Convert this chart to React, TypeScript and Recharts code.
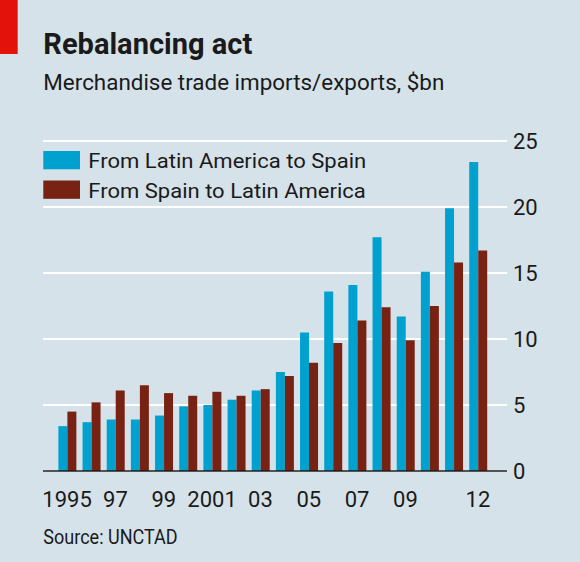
import React from 'react';
import { BarChart, Bar, XAxis, YAxis, CartesianGrid } from 'recharts';

const years = [
  '1995', '1996', '1997', '1998', '1999', '2000', '2001', '2002', '2003',
  '2004', '2005', '2006', '2007', '2008', '2009', '2010', '2011', '2012'
];
const latamToSpain = [3.4, 3.7, 3.9, 3.9, 4.2, 4.9, 5.0, 5.4, 6.1, 7.5, 10.5, 13.6, 14.1, 17.7, 11.7, 15.1, 19.9, 23.4];
const spainToLatam = [4.5, 5.2, 6.1, 6.5, 5.9, 5.7, 6.0, 5.7, 6.2, 7.2, 8.2, 9.7, 11.4, 12.4, 9.9, 12.5, 15.8, 16.7];
const yTicks = [0, 5, 10, 15, 20, 25];
const xTickLabels: Record<string, string> = {
  '1995': '1995', '1997': '97', '1999': '99', '2001': '2001', '2003': '03',
  '2005': '05', '2007': '07', '2009': '09', '2012': '12'
};

const series = [
  { key: 'latam', name: 'From Latin America to Spain', color: '#00a1cf', textLength: 278 },
  { key: 'spain', name: 'From Spain to Latin America', color: '#782213', textLength: 277.5 }
];

const BG = '#d6e2e9';
const INK = '#1a1a1a';
const FONT = 'Roboto, "DejaVu Sans", sans-serif';

const data = years.map((year, i) => ({
  year,
  latam: latamToSpain[i],
  spain: spainToLatam[i]
}));

const App: React.FC = () => {
  return (
    <div style={{ position: 'relative', width: 580, height: 562, background: BG, overflow: 'hidden' }}>
      <style>{'body{margin:0}'}</style>
      <BarChart
        width={580}
        height={562}
        data={data}
        margin={{ top: 141, right: 0, bottom: 0, left: 43 }}
        barCategoryGap="14%"
        barGap={0}
      >
        <CartesianGrid vertical={false} stroke="#ffffff" strokeWidth={2} />
        <XAxis
          dataKey="year"
          height={91}
          interval={0}
          padding={{ left: 12, right: 17 }}
          tickFormatter={(v: string) => xTickLabels[v] ?? ''}
          tick={{ fontSize: 22, fill: INK, fontFamily: FONT }}
          tickLine={false}
          tickSize={0}
          tickMargin={20}
          axisLine={{ stroke: INK, strokeWidth: 1.5 }}
        />
        <YAxis
          orientation="right"
          width={73}
          domain={[0, 25]}
          ticks={yTicks}
          tick={{ fontSize: 22, fill: INK, fontFamily: FONT, textAnchor: 'start' }}
          tickLine={false}
          tickSize={0}
          tickMargin={6}
          axisLine={false}
        />
        {series.map(s => (
          <Bar key={s.key} dataKey={s.key} name={s.name} fill={s.color} isAnimationActive={false} />
        ))}
      </BarChart>

      <svg
        width={580}
        height={562}
        style={{ position: 'absolute', left: 0, top: 0, pointerEvents: 'none' }}
      >
        <rect x={0} y={0} width={17.7} height={54} fill="#e3120b" />
        <text x={43.3} y={54} fontSize={29} fontWeight="bold" fill={INK} fontFamily={FONT}
          textLength={209} lengthAdjust="spacingAndGlyphs">
          Rebalancing act
        </text>
        <text x={43.3} y={90} fontSize={22.5} fill={INK} fontFamily={FONT}
          textLength={401} lengthAdjust="spacingAndGlyphs">
          Merchandise trade imports/exports, $bn
        </text>

        {series.map((s, i) => (
          <g key={s.key}>
            <rect x={43.3} y={151 + i * 29.5} width={36.7} height={18.3} fill={s.color} />
            <text x={88.3} y={168.3 + i * 30} fontSize={21} fill={INK} fontFamily={FONT}
              textLength={s.textLength} lengthAdjust="spacingAndGlyphs">
              {s.name}
            </text>
          </g>
        ))}

        <text x={43.3} y={544} fontSize={21} fill={INK} fontFamily={FONT}
          textLength={134.4} lengthAdjust="spacingAndGlyphs">
          Source: UNCTAD
        </text>
      </svg>
    </div>
  );
};

export default App;
